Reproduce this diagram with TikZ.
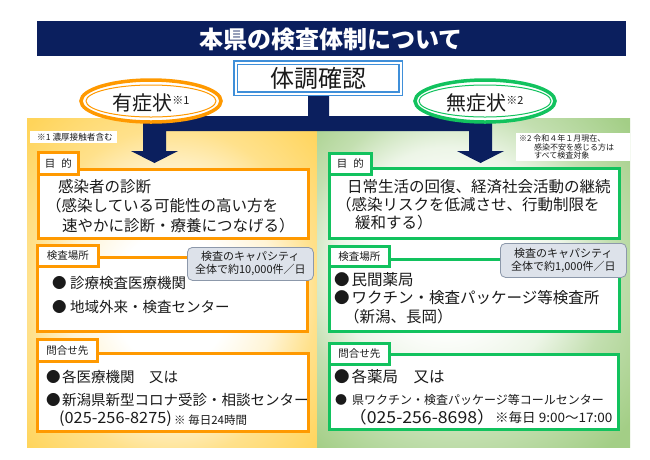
\documentclass[tikz,border=0pt]{standalone}
\usepackage{fontspec}
\setmainfont{Noto Sans CJK JP}
\usetikzlibrary{shapes.geometric}
\definecolor{navyc}{HTML}{0B1F5E}
\definecolor{orgc}{HTML}{FF9900}
\definecolor{grnc}{HTML}{12C25E}
\definecolor{ylwc}{HTML}{FFD45A}
\definecolor{gpanc}{HTML}{A3CE86}
\colorlet{ylwl}{ylwc!25!white}
\colorlet{ylwm}{ylwc!70!white}
\colorlet{gpanl}{gpanc!20!white}
\colorlet{gpanm}{gpanc!65!white}
\definecolor{capf}{HTML}{DDE2EA}
\definecolor{capd}{HTML}{8C98AA}
\definecolor{boxb}{HTML}{3F8FD9}
\definecolor{txtc}{HTML}{1A1A1A}
\pgfdeclareradialshading{yshade}{\pgfpoint{0bp}{-3bp}}{color(0bp)=(white); color(10bp)=(white); color(18bp)=(ylwl); color(25bp)=(ylwm); color(35bp)=(ylwc); color(50bp)=(ylwc)}
\pgfdeclareradialshading{gshade}{\pgfpoint{-6bp}{4bp}}{color(0bp)=(white); color(10bp)=(white); color(18bp)=(gpanl); color(25bp)=(gpanm); color(35bp)=(gpanc); color(50bp)=(gpanc)}
\newcommand{\fsz}[1]{\fontsize{#1}{#1}\selectfont}
\begin{document}
\begin{tikzpicture}[x=1pt,y=-1pt,
  frame/.style={line width=2.8pt, fill=white, inner sep=0, anchor=north west},
  lbox/.style={frame, draw=orgc},
  gbox/.style={frame, draw=grnc},
  ltab/.style={lbox, font=\fsz{10.5}, text=txtc},
  gtab/.style={gbox, font=\fsz{10.5}, text=txtc},
  capbox/.style={draw=capd, fill=capf, line width=0.8pt, rounded corners=5pt, inner sep=0, anchor=north west, align=center, font=\fontsize{11}{13}\selectfont, text=txtc},
  txt/.style={anchor=west, inner sep=0, text=txtc},
  fa/.style={font=\fsz{15.5}},
  fb/.style={font=\fsz{14.5}},
  symell/.style={ellipse, line width=3.5pt, fill=white, minimum width=140, minimum height=42, inner sep=0, text=txtc, font=\fsz{20}}
]
\useasboundingbox (0,0) rectangle (650,459);
\fill[white] (0,0) rectangle (650,459);

% background panels
\path[shading=yshade] (27,118) rectangle (317,447);
\path[shading=gshade] (317,118) rectangle (630,447);

% title
\node[fill=navyc, minimum width=589, minimum height=35, inner sep=0, anchor=north west] (title) at (37,21) {};
\node[text=white, font=\fsz{24}\bfseries, inner sep=0] (titlet) at (331,39) {本県の検査体制について};

% connector (stem, bar and two block arrows)
\fill[navyc] (308,96) -- (329,96) -- (329,116) -- (492,116) -- (492,151) -- (504,151)
  -- (480.5,163) -- (457,151) -- (469,151) -- (469,131) -- (166,131) -- (166,151)
  -- (178,151) -- (154.5,163) -- (131,151) -- (143,151) -- (143,116) -- (308,116) -- cycle;

% check box
\node[draw=boxb, double=white, double distance=2pt, line width=1.4pt, fill=white,
      minimum width=165, minimum height=31, inner sep=0, font=\fsz{24}, text=txtc] (check) at (318,78) {体調確認};

% ellipses
\node[symell, draw=orgc] (sym) at (151,101) {};
\draw[orgc, line width=1pt] (sym.center) ellipse [x radius=65, y radius=16];
\node[inner sep=0, text=txtc, font=\fsz{20}] (symt) at (151,103) {有症状\raisebox{6pt}{\fsz{11}※1}};
\node[symell, draw=grnc] (asym) at (485,101) {};
\draw[grnc, line width=1pt] (asym.center) ellipse [x radius=66, y radius=16];
\node[inner sep=0, text=txtc, font=\fsz{20}] (asymt) at (485,103) {無症状\raisebox{6pt}{\fsz{11}※2}};

% notes
\node[fill=white, minimum width=87, minimum height=12, inner sep=0, anchor=north west] (note1) at (30,131) {};
\node[txt, font=\fsz{8.6}] (note1t) at (37,137) {※1 濃厚接触者含む};
\node[fill=white, minimum width=114, minimum height=28, inner sep=0, anchor=north west] (note2) at (516,133) {};
\node[txt, align=left, font=\fontsize{8}{8.5}\selectfont] (note2t) at (519,147)
  {※2 令和４年１月現在、\\\hspace*{15pt}感染不安を感じる方は\\\hspace*{15pt}すべて検査対象};

% ===== left column =====
\node[lbox, minimum width=270, minimum height=69] (lb1) at (37,168) {};
\node[ltab, minimum width=40, minimum height=22] (lt1) at (37,151) {目\hspace{6pt}的};
\node[txt, fa] (lp1) at (58,187) {感染者の診断};
\node[txt, fa] (lp2) at (46,206) {（感染している可能性の高い方を};
\node[txt, fa] (lp3) at (62,226) {速やかに診断・療養につなげる）};

\node[lbox, minimum width=270, minimum height=74] (lb2) at (36,256) {};
\node[ltab, minimum width=61, minimum height=21] (lt2) at (36,244) {検査場所};
\node[capbox, minimum width=126, minimum height=33] (lcap) at (187,247) {検査のキャパシティ\\全体で約10,000件／日};
\node[txt, fb] (lk1) at (52,283) {●\hspace{3.5pt}診療検査医療機関};
\node[txt, fb] (lk2) at (52,307) {●\hspace{3.5pt}地域外来・検査センター};

\node[lbox, minimum width=271, minimum height=78] (lb3) at (36,352) {};
\node[ltab, minimum width=60, minimum height=22] (lt3) at (36,338) {問合せ先};
\node[txt, fb] (lc1) at (46,377) {●\hspace{1.5pt}各医療機関　又は};
\node[txt, fb] (lc2) at (46,400) {●\hspace{1.5pt}新潟県新型コロナ受診・相談センター};
\node[txt, font=\fsz{15.5}] (lc3) at (59,419) {\scalebox{1.05}[1]{(025-256-8275)}};
\node[txt, font=\fsz{11.5}] (lc4) at (174,420) {※ 毎日24時間};

% ===== right column =====
\node[gbox, minimum width=290, minimum height=70] (rb1) at (328,167) {};
\node[gtab, minimum width=42, minimum height=21] (rt1) at (328,152) {目\hspace{6pt}的};
\node[txt, fa] (rp1) at (347,187) {日常生活の回復、経済社会活動の継続};
\node[txt, fa] (rp2) at (336,205) {（感染リスクを低減させ、行動制限を};
\node[txt, fa] (rp3) at (355,223) {緩和する）};

\node[gbox, minimum width=290, minimum height=72] (rb2) at (328,258) {};
\node[gtab, minimum width=60, minimum height=20] (rt2) at (328,245) {検査場所};
\node[capbox, minimum width=126, minimum height=34] (rcap) at (500,243) {検査のキャパシティ\\全体で約1,000件／日};
\node[txt, fa] (rk1) at (334,280) {●\hspace{2pt}民間薬局};
\node[txt, fa] (rk2) at (334,298) {●\hspace{2pt}ワクチン・検査パッケージ等検査所};
\node[txt, fa] (rk3) at (344,317) {（新潟、長岡）};

\node[gbox, minimum width=289, minimum height=75] (rb3) at (328,353) {};
\node[gtab, minimum width=60, minimum height=21] (rt3) at (328,342) {問合せ先};
\node[txt, fa] (rc1) at (334,377) {●\hspace{2pt}各薬局　又は};
\node[txt, font=\fsz{12}] (rc2) at (335,400) {●\hspace{5pt}県ワクチン・検査パッケージ等コールセンター};
\node[txt, font=\fsz{16.5}] (rc3) at (349,417) {\scalebox{1.07}[1]{（025-256-8698）}};
\node[txt, font=\fsz{13}] (rc4) at (495,418) {\scalebox{1.04}[1]{※毎日 9:00～17:00}};
\end{tikzpicture}
\end{document}
